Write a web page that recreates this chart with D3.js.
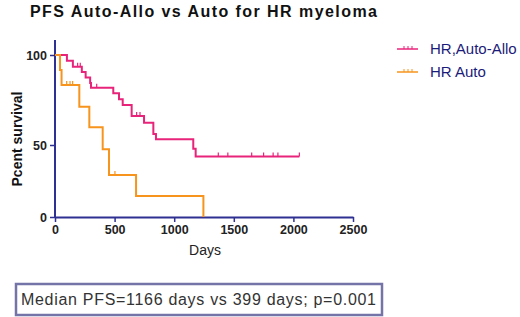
<!DOCTYPE html>
<html>
<head>
<meta charset="utf-8">
<script src="https://cdn.jsdelivr.net/npm/d3@7"></script>
<style>
  body { margin: 0; background: #fff; }
  svg { display: block; font-family: Arial, "Liberation Sans", sans-serif; }
</style>
</head>
<body>
<div id="chart"></div>
<script>
// Kaplan-Meier step data
const alloDays = [0, 100, 150, 225, 257, 295, 302, 489, 537, 568, 643, 747, 825, 847, 1160, 1180, 2050]
const alloSurv = [100, 96.8, 93.5, 90.5, 87.5, 84.5, 81.8, 78.7, 75.4, 72.2, 66.1, 62.4, 56.1, 53.2, 47.4, 42, 42]
const alloCensor = [190, 212, 350, 685, 713, 1370, 1450, 1650, 1750, 1830, 1870, 2050]

const autoDays = [0, 42, 55, 204, 288, 400, 453, 680, 1245]
const autoSurv = [100, 91.7, 83.3, 71.3, 59.8, 47, 29.2, 14.6, 0]
const autoCensor = [98, 126, 148, 503]

const xTicks = [0, 500, 1000, 1500, 2000, 2500]
const yTicks = [0, 50, 100]
const seriesNames = ['HR,Auto-Allo', 'HR Auto']
const seriesColors = ['#e8237a', '#f7941d']

const width = 520
const height = 317
const axisColor = '#2e3192'

const svg = d3.select('#chart')
  .append('svg')
  .attr('width', width)
  .attr('height', height)
  .attr('viewBox', [0, 0, width, height])

const x = d3.scaleLinear().domain([0, 2500]).range([55, 353])
// the reference's y axis is not evenly spaced, so use a piecewise scale
const y = d3.scaleLinear().domain([0, 50, 100]).range([217, 145, 55])

// title
svg.append('text')
  .attr('x', 30)
  .attr('y', 17)
  .attr('font-size', 16)
  .attr('font-weight', 'bold')
  .attr('fill', '#111')
  .attr('textLength', 347)
  .attr('lengthAdjust', 'spacing')
  .text('PFS Auto-Allo vs Auto for HR myeloma')

// axes
const xAxis = svg.append('g')
  .attr('transform', `translate(0,${y(0)})`)
  .call(d3.axisBottom(x).tickValues(xTicks).tickFormat(d3.format('d'))
    .tickSize(5).tickSizeOuter(0).tickPadding(3))
xAxis.select('.domain').attr('stroke', axisColor).attr('stroke-width', 2)
xAxis.selectAll('.tick line').attr('stroke', axisColor).attr('stroke-width', 1.5)
xAxis.selectAll('.tick text')
  .attr('font-size', 12.5).attr('font-weight', 'bold').attr('fill', '#222')
  .attr('font-family', 'Arial, "Liberation Sans", sans-serif')

const yAxis = svg.append('g')
  .attr('transform', `translate(${x(0)},0)`)
  .call(d3.axisLeft(y).tickValues(yTicks).tickSize(5).tickSizeOuter(0).tickPadding(3))
yAxis.select('.domain').remove()
yAxis.append('line')
  .attr('y1', 40).attr('y2', y(0))
  .attr('stroke', axisColor).attr('stroke-width', 2)
yAxis.selectAll('.tick line').attr('stroke', axisColor).attr('stroke-width', 1.5)
yAxis.selectAll('.tick text')
  .attr('font-size', 12.5).attr('font-weight', 'bold').attr('fill', '#222')
  .attr('font-family', 'Arial, "Liberation Sans", sans-serif')

// axis titles
svg.append('text')
  .attr('x', 205)
  .attr('y', 255)
  .attr('text-anchor', 'middle')
  .attr('font-size', 14)
  .attr('fill', '#222')
  .text('Days')

svg.append('text')
  .attr('transform', `translate(22,${y(50) - 6}) rotate(-90)`)
  .attr('text-anchor', 'middle')
  .attr('font-size', 14)
  .attr('font-weight', 'bold')
  .attr('fill', '#111')
  .text('Pcent survival')

// survival curves
const stepLine = d3.line()
  .x((d) => x(d[0]))
  .y((d) => y(d[1]))
  .curve(d3.curveStepAfter)

function stepValue(days, surv, t) {
  const i = d3.bisectRight(days, t) - 1
  return surv[Math.max(0, i)]
}

const series = [
  { days: alloDays, surv: alloSurv, censor: alloCensor },
  { days: autoDays, surv: autoSurv, censor: autoCensor },
]

series.forEach((s, k) => {
  svg.append('path')
    .datum(d3.zip(s.days, s.surv))
    .attr('d', stepLine)
    .attr('fill', 'none')
    .attr('stroke', seriesColors[k])
    .attr('stroke-width', 2)

  svg.append('g')
    .selectAll('line')
    .data(s.censor)
    .join('line')
    .attr('x1', (d) => x(d))
    .attr('x2', (d) => x(d))
    .attr('y1', (d) => y(stepValue(s.days, s.surv, d)))
    .attr('y2', (d) => y(stepValue(s.days, s.surv, d)) - 4)
    .attr('stroke', seriesColors[k])
    .attr('stroke-width', 1.2)
})

// legend
const legend = svg.append('g')
seriesNames.forEach((name, k) => {
  const ly = 49 + k * 23
  legend.append('line')
    .attr('x1', 397).attr('x2', 418)
    .attr('y1', ly).attr('y2', ly)
    .attr('stroke', seriesColors[k]).attr('stroke-width', 1.5)
  ;[404, 408, 412].forEach((tx) => {
    legend.append('line')
      .attr('x1', tx).attr('x2', tx)
      .attr('y1', ly).attr('y2', ly - 3)
      .attr('stroke', seriesColors[k]).attr('stroke-width', 1)
  })
  legend.append('text')
    .attr('x', 430)
    .attr('y', ly + 5)
    .attr('font-size', 15)
    .attr('fill', '#1b1b7a')
    .text(name)
})

// median box
svg.append('rect')
  .attr('x', 16)
  .attr('y', 284)
  .attr('width', 366)
  .attr('height', 31)
  .attr('fill', '#fff')
  .attr('stroke', '#7474a8')
  .attr('stroke-width', 2.5)

svg.append('text')
  .attr('x', 21)
  .attr('y', 305)
  .attr('font-size', 16)
  .attr('fill', '#333')
  .attr('textLength', 355)
  .attr('lengthAdjust', 'spacing')
  .text('Median PFS=1166 days vs 399 days; p=0.001')
</script>
</body>
</html>
